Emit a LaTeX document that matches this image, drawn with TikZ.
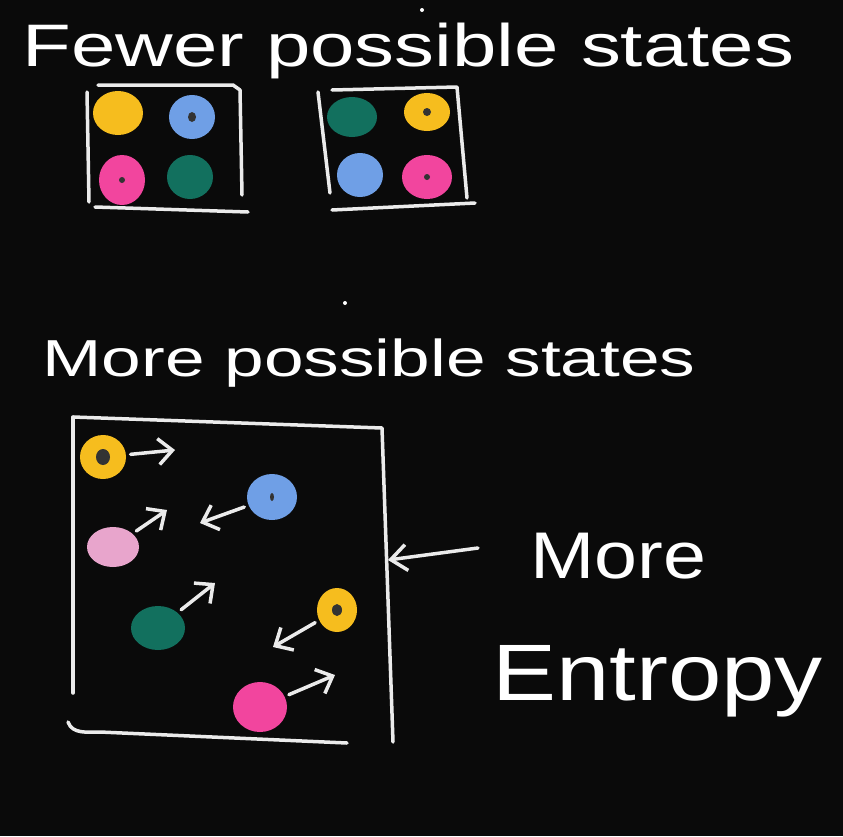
\documentclass[tikz,border=0pt]{standalone}
\usepackage{fontspec}
\setmainfont{Liberation Sans}
\usetikzlibrary{arrows.meta}
\usetikzlibrary{positioning, shapes.geometric}
\definecolor{dotyellow}{RGB}{246,189,30}
\definecolor{dotblue}{RGB}{111,159,230}
\definecolor{dotteal}{RGB}{18,112,94}
\definecolor{dotpink}{RGB}{242,69,158}
\definecolor{dotrose}{RGB}{232,165,204}
\tikzset{every picture/.style={line width=3.5pt}}
\tikzset{chalk/.style={draw=white!92!black, line cap=round, line join=round},
  ball/.style={ellipse, inner sep=0pt, minimum width=46pt, minimum height=44pt},
  move/.style={chalk, -{Straight Barb[length=14pt, width=26pt]}, shorten <=3pt},
  word/.style={text=white, anchor=base west, inner sep=0pt}}

\begin{document}
\begin{tikzpicture}[x=1pt, y=-1pt]
\fill[black!96] (0,0) rectangle (843,836);
\useasboundingbox (0,0) rectangle (843,836);
% headings
\node[word, font=\fontsize{60}{64}\selectfont, xscale=1.33] (fewer) at (20,66) {Fewer possible states};
\node[word, font=\fontsize{52}{56}\selectfont, xscale=1.37] (morest) at (40,376) {More possible states};
\fill[white] (422,10) circle (2) (345,303) circle (2);
% first box
\draw[chalk] (87,92) -- (89,202);
\draw[chalk] (98,85) -- (233,85) -- (240,90) -- (242,195);
\draw[chalk] (95,207) -- (248,212);
\node[ball, fill=dotyellow, minimum width=50pt] (ay) at (118,113) {};
\node[ball, fill=dotblue] (ab) at (192,117) {};
\node[ball, fill=dotpink, minimum height=50pt] (ap) at (122,180) {};
\node[ball, fill=dotteal] (ag) at (190,177) {};
% second box
\draw[chalk] (318,92) -- (330,193);
\draw[chalk] (332,90) -- (457,87) -- (467,198);
\draw[chalk] (332,210) -- (475,203);
\node[ball, fill=dotteal, minimum width=50pt, minimum height=40pt] (bg) at (352,117) {};
\node[ball, fill=dotyellow, minimum height=38pt] (by) at (427,112) {};
\node[ball, fill=dotblue] (bb) at (360,175) {};
\node[ball, fill=dotpink, minimum width=50pt] (bp) at (427,177) {};
\fill[black!80] (ab) ellipse (4 and 5) (ap) ellipse (3 and 3) (by) circle (4) (bp) circle (3);
% big box
\draw[chalk] (73,417) -- (73,693);
\draw[chalk] (73,417) -- (382,428) -- (393,742);
\draw[chalk] (68,722) to[out=-70, in=180] (100,732) -- (347,743);
\coordinate (boxR) at (388,560);
\node[ball, fill=dotyellow] (cy) at (103,457) {};
\node[ball, fill=dotblue, minimum width=50pt, minimum height=46pt] (cb) at (272,497) {};
\node[ball, fill=dotrose, minimum width=52pt, minimum height=40pt] (cr) at (113,547) {};
\node[ball, fill=dotteal, minimum width=54pt] (cg) at (158,628) {};
\node[ball, fill=dotyellow, minimum width=40pt, minimum height=44pt] (cy2) at (337,610) {};
\node[ball, fill=dotpink, minimum width=54pt, minimum height=50pt] (cp) at (260,707) {};
\fill[black!80] (cy) ellipse (7 and 8) (cy2) ellipse (5 and 6) (cb) ellipse (2 and 4);
\coordinate (cyto) at (175,450);
\coordinate (cbto) at (200,523);
\coordinate (crto) at (167,510);
\coordinate (cgto) at (215,583);
\coordinate (cy2to) at (273,647);
\coordinate (cpto) at (335,675);
\draw[move] (cy) -- (cyto);
\draw[move] (cb) -- (cbto);
\draw[move] (cr) -- (crto);
\draw[move] (cg) -- (cgto);
\draw[move] (cy2) -- (cy2to);
\draw[move] (cp) -- (cpto);
% label
\node[word, font=\fontsize{66}{70}\selectfont, xscale=1.17] (more) at (528,578) {More};
\node[word, font=\fontsize{80}{84}\selectfont, xscale=1.2] (entropy) at (490,700) {Entropy};
\coordinate (tail) at (478,548);
\draw[chalk, -{Straight Barb[length=16pt, width=26pt]}] (tail) -- (boxR);
\end{tikzpicture}
\end{document}
